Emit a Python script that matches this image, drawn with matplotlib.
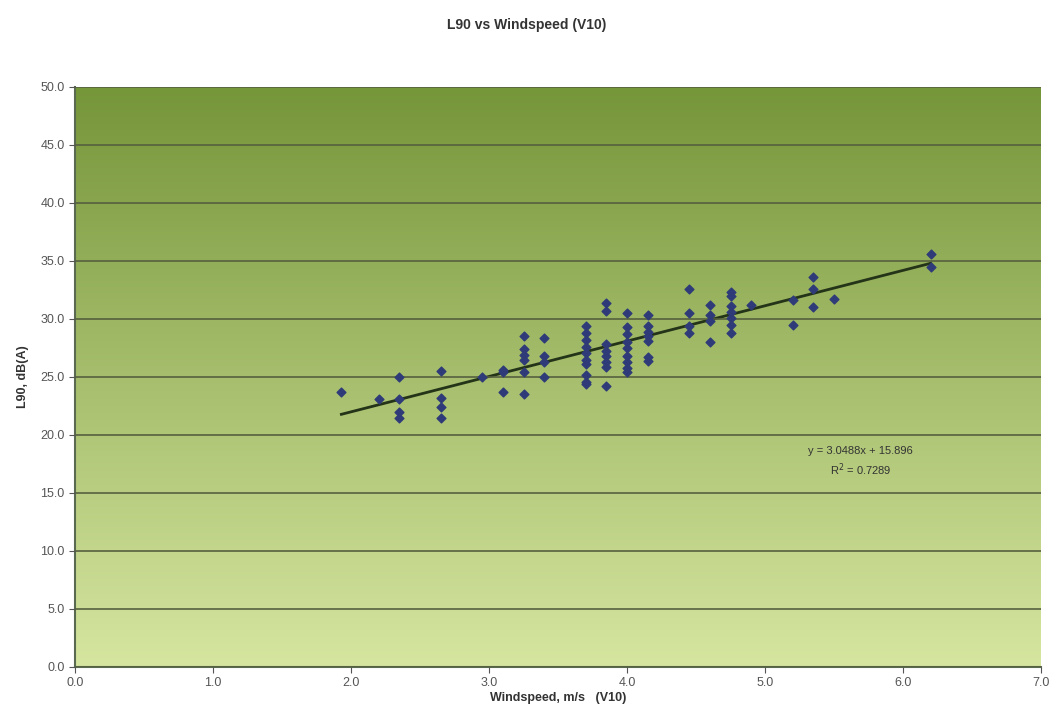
import numpy as np
from matplotlib import pyplot as plt

plt.rcParams['font.family'] = ['Liberation Sans', 'DejaVu Sans']

# data (windspeed m/s, L90 dB(A))
wind = [1.93, 2.20,
        2.35, 2.35, 2.35, 2.35,
        2.65, 2.65, 2.65, 2.65,
        2.95,
        3.10, 3.10, 3.10,
        3.25, 3.25, 3.25, 3.25, 3.25, 3.25,
        3.40, 3.40, 3.40, 3.40,
        3.70, 3.70, 3.70, 3.70, 3.70, 3.70, 3.70, 3.70, 3.70, 3.70,
        3.85, 3.85, 3.85, 3.85, 3.85, 3.85, 3.85, 3.85,
        4.00, 4.00, 4.00, 4.00, 4.00, 4.00, 4.00, 4.00, 4.00,
        4.15, 4.15, 4.15, 4.15, 4.15, 4.15, 4.15,
        4.45, 4.45, 4.45, 4.45,
        4.60, 4.60, 4.60, 4.60,
        4.75, 4.75, 4.75, 4.75, 4.75, 4.75, 4.75,
        4.90,
        5.20, 5.20,
        5.35, 5.35, 5.35,
        5.50,
        6.20, 6.20]
l90 = [23.7, 23.1,
       25.0, 23.1, 22.0, 21.5,
       25.5, 23.2, 22.4, 21.5,
       25.0,
       25.6, 25.4, 23.7,
       28.5, 27.4, 26.9, 26.5, 25.4, 23.5,
       28.4, 26.8, 26.3, 25.0,
       29.4, 28.8, 28.2, 27.6, 27.1, 26.5, 26.1, 25.2, 24.6, 24.4,
       31.4, 30.7, 27.8, 27.2, 26.8, 26.3, 25.9, 24.2,
       30.5, 29.3, 28.7, 28.0, 27.5, 26.8, 26.3, 25.8, 25.4,
       30.3, 29.4, 28.9, 28.5, 28.1, 26.7, 26.4,
       32.6, 30.5, 29.4, 28.8,
       31.2, 30.3, 29.8, 28.0,
       32.3, 32.0, 31.1, 30.6, 30.1, 29.5, 28.8,
       31.2,
       31.6, 29.5,
       33.6, 32.6, 31.0,
       31.7,
       35.6, 34.5]

# linear trendline from the chart
slope = 3.0488
intercept = 15.896
r2 = 0.7289

fig = plt.figure(figsize=(10.54, 7.23), dpi=100)
ax = fig.add_axes([0.0712, 0.0775, 0.9165, 0.8022])

# gradient background, dark green at top to pale yellow-green at bottom
top = np.array([118, 150, 58]) / 255
bottom = np.array([214, 230, 160]) / 255
t = np.linspace(0, 1, 256)[:, None]
grad = (top * (1 - t) + bottom * t)[:, None, :]
ax.imshow(grad, extent=[0, 7, 0, 50], aspect='auto', zorder=0)

ax.set_xlim(0, 7)
ax.set_ylim(0, 50)
ax.set_xticks(np.arange(0, 7.1, 1.0))
ax.set_yticks(np.arange(0, 50.1, 5.0))
ax.set_xticklabels([f'{v:.1f}' for v in np.arange(0, 7.1, 1.0)])
ax.set_yticklabels([f'{v:.1f}' for v in np.arange(0, 50.1, 5.0)])
ax.tick_params(colors='#555555', labelsize=9, length=4, labelcolor='#555555')
ax.yaxis.grid(True, color='#56603f', linewidth=1.2, zorder=1)
ax.set_axisbelow(False)
for s in ['top', 'right']:
    ax.spines[s].set_visible(False)
for s in ['left', 'bottom']:
    ax.spines[s].set_color('#5a6a50')
    ax.spines[s].set_linewidth(1.5)

ax.scatter(wind, l90, marker='D', s=20, color='#2e3b78', zorder=3)

xfit = np.array([min(wind), max(wind)])
ax.plot(xfit, slope * xfit + intercept, color='#243418', linewidth=2, zorder=2)

ax.text(5.69, 18.6, f'y = {slope}x + {intercept}', ha='center', va='center',
        fontsize=8, color='#333333', zorder=4)
ax.text(5.69, 17.0, f'R$^2$ = {r2}', ha='center', va='center',
        fontsize=8, color='#333333', zorder=4)

fig.text(0.5, 0.965, 'L90 vs Windspeed (V10)', ha='center', va='center',
         fontsize=10, fontweight='bold', color='#333333')
ax.set_xlabel('Windspeed, m/s   (V10)', fontsize=9, fontweight='bold',
              color='#333333', labelpad=2)
ax.set_ylabel('L90, dB(A)', fontsize=9, fontweight='bold', color='#333333',
              labelpad=8)

fig.savefig('out.png', dpi=100)
